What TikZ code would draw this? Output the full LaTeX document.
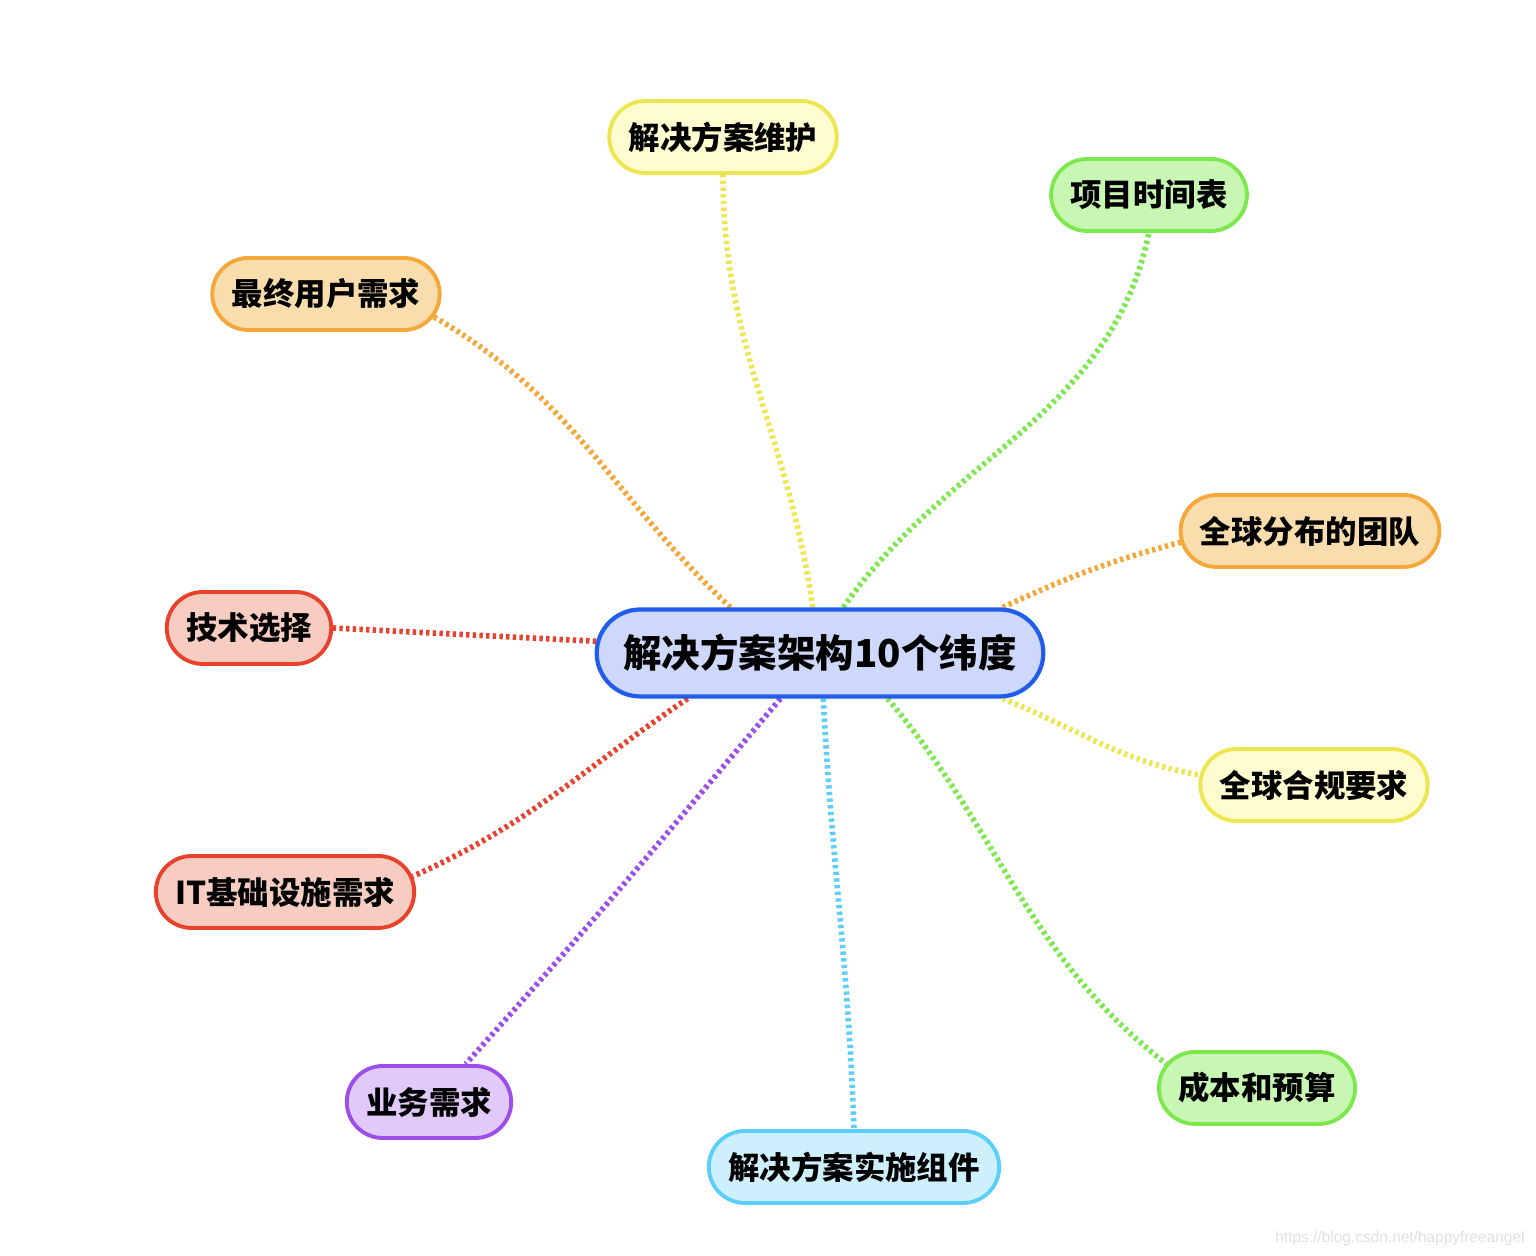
\documentclass[tikz,border=0pt]{standalone}
\usepackage{fontspec}
\setmainfont{Liberation Sans}
\newfontfamily\cjk{Noto Sans CJK SC}
\usetikzlibrary{shapes.misc,backgrounds}
\definecolor{MapBlue}{RGB}{33,92,235}
\definecolor{MapBlueLight}{RGB}{206,216,250}
\definecolor{MapYellow}{RGB}{237,230,80}
\definecolor{MapYellowLight}{RGB}{255,253,208}
\definecolor{MapGreen}{RGB}{125,232,78}
\definecolor{MapGreenLight}{RGB}{200,247,180}
\definecolor{MapOrange}{RGB}{244,168,58}
\definecolor{MapOrangeLight}{RGB}{250,221,172}
\definecolor{MapRed}{RGB}{232,66,44}
\definecolor{MapRedLight}{RGB}{248,205,193}
\definecolor{MapPurple}{RGB}{157,78,234}
\definecolor{MapPurpleLight}{RGB}{225,202,250}
\definecolor{MapCyan}{RGB}{92,206,247}
\definecolor{MapCyanLight}{RGB}{206,240,252}

\begin{document}
\begin{tikzpicture}[
x=0.02cm,y=0.02cm,
topic/.style={
    rounded rectangle,
    line width=2.2pt,
    minimum height=1.44cm,
    inner xsep=0.32cm,
    font=\cjk\bfseries\fontsize{17.9}{20}\selectfont
},
hubbox/.style={
    rounded rectangle,
    line width=2.4pt,
    draw=MapBlue,
    fill=MapBlueLight,
    minimum height=1.74cm,
    inner xsep=0.45cm,
    font=\cjk\bfseries\fontsize{21.9}{25}\selectfont
},
yltopic/.style={topic,draw=MapYellow,fill=MapYellowLight},
grtopic/.style={topic,draw=MapGreen,fill=MapGreenLight},
ortopic/.style={topic,draw=MapOrange,fill=MapOrangeLight},
rdtopic/.style={topic,draw=MapRed,fill=MapRedLight},
pptopic/.style={topic,draw=MapPurple,fill=MapPurpleLight},
cytopic/.style={topic,draw=MapCyan,fill=MapCyanLight},
link/.style={line width=3.2pt,dash pattern=on 1.9pt off 1.9pt,draw=#1}
]
\useasboundingbox (0,0) rectangle (1536,1256);

\node[hubbox] (hub) at (820,603) {解决方案架构10个纬度};

\node[yltopic] (maint) at (723,1119) {解决方案维护};
\node[grtopic] (sched) at (1149,1061) {项目时间表};
\node[ortopic] (euser) at (326,962) {最终用户需求};
\node[ortopic] (team) at (1310,725) {全球分布的团队};
\node[rdtopic] (tech) at (249,628) {技术选择};
\node[yltopic] (compl) at (1314,471) {全球合规要求};
\node[rdtopic] (infra) at (285,364) {IT基础设施需求};
\node[grtopic] (cost) at (1257,168) {成本和预算};
\node[pptopic] (biz) at (429,154) {业务需求};
\node[cytopic] (impl) at (854,89) {解决方案实施组件};

\node[text=black!12,font=\fontsize{8.8}{10}\selectfont] (wmark) at (1400,17) {https://blog.csdn.net/happyfreeangel};

\begin{scope}[on background layer]
\draw[link=MapYellow] (hub.99) to[out=98,in=-90] (maint.south);
\draw[link=MapGreen] (hub.63) to[out=55,in=-102] (sched.south);
\draw[link=MapOrange] (hub.153) to[out=137,in=-30] (euser.-12);
\draw[link=MapOrange] (hub.14) to[out=25,in=-165] (team.185);
\draw[link=MapRed] (hub.177) -- (tech.east);
\draw[link=MapYellow] (hub.-14) to[out=-22,in=170] (compl.175);
\draw[link=MapRed] (hub.199) to[out=214,in=24] (infra.7);
\draw[link=MapGreen] (hub.-34) to[out=-50,in=142] (cost.165);
\draw[link=MapPurple] (hub.229) to[out=230,in=48] (biz.46);
\draw[link=MapCyan] (hub.-86) to[out=-87,in=92] (impl.north);
\end{scope}

\end{tikzpicture}
\end{document}
